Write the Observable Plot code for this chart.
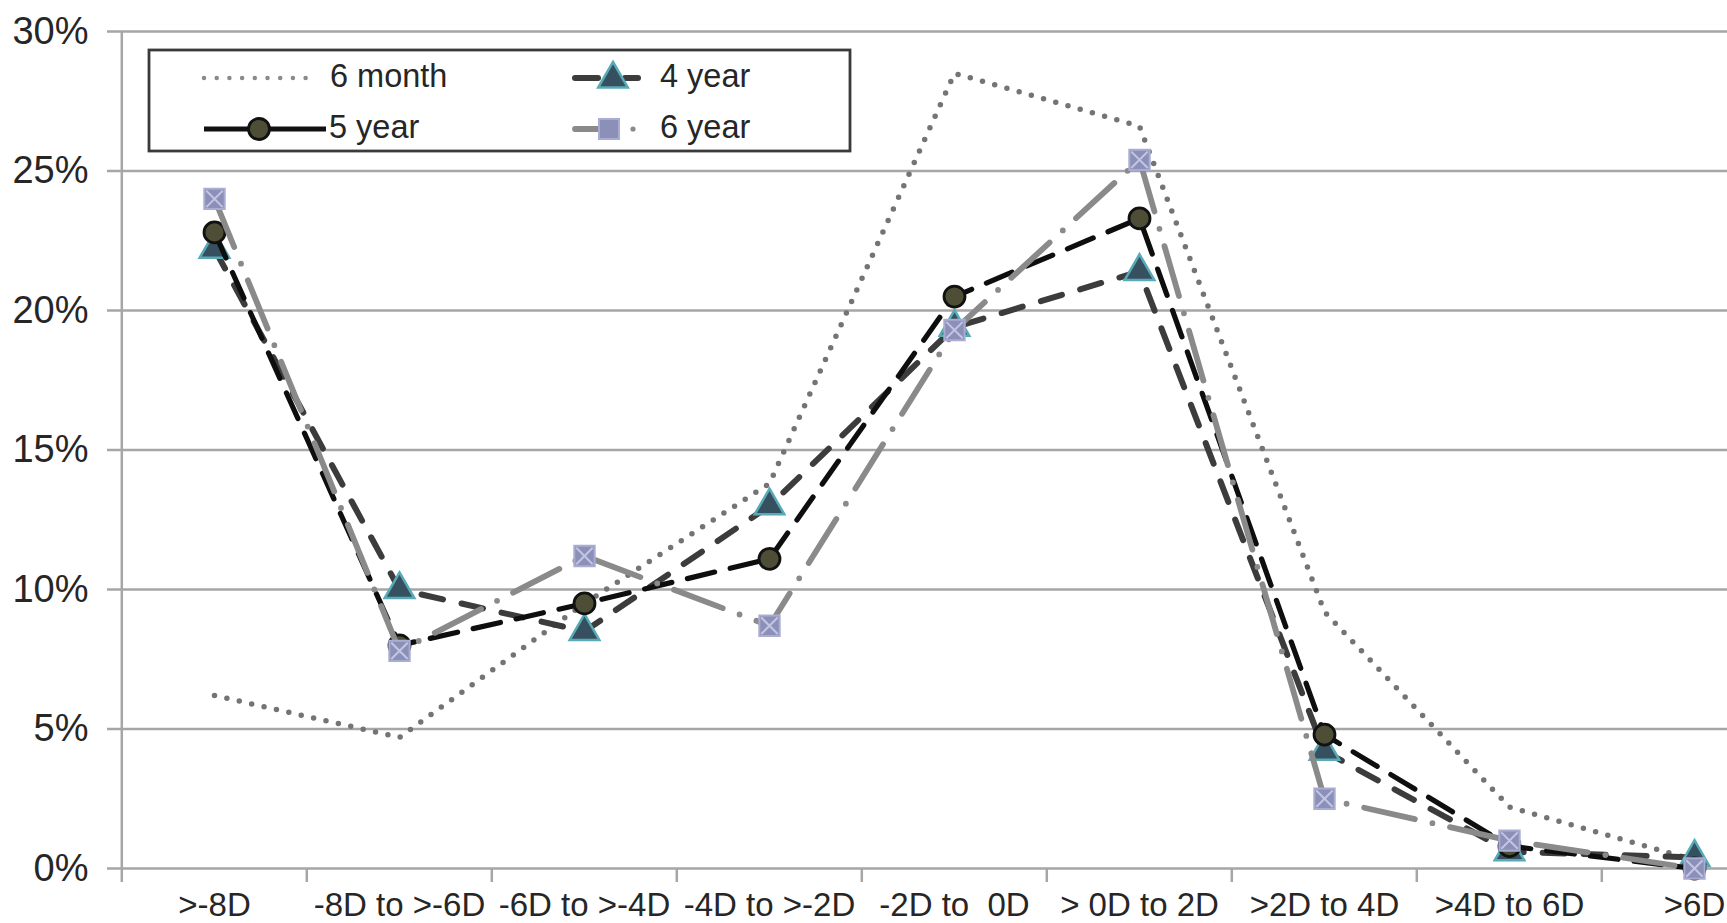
<!DOCTYPE html>
<html>
<head>
<meta charset="utf-8">
<script src="https://cdn.jsdelivr.net/npm/d3@7"></script>
<script src="https://cdn.jsdelivr.net/npm/@observablehq/plot@0.6"></script>
<style>
  html, body { margin: 0; padding: 0; background: #fff; overflow: hidden; }
  #wrap { position: relative; width: 1727px; height: 923px; }
  #wrap svg { display: block; }
  #legend { position: absolute; left: 0; top: 0; pointer-events: none; }
</style>
</head>
<body>
<div id="wrap"></div>
<script>
// ---- data ----
const categories = [">-8D", "-8D to >-6D", "-6D to >-4D", "-4D to >-2D", "-2D to  0D", "> 0D to 2D", ">2D to 4D", ">4D to 6D", ">6D"];
const sixMonth = [6.2, 4.7, 9.5, 13.8, 28.5, 26.6, 9.2, 2.2, 0.3];
const fourYear = [22.2, 10.0, 8.5, 13.0, 19.4, 21.4, 4.2, 0.6, 0.4];
const fiveYear = [22.8, 8.0, 9.5, 11.1, 20.5, 23.3, 4.8, 0.8, 0.0];
const sixYear  = [24.0, 7.8, 11.2, 8.7, 19.3, 25.4, 2.5, 1.0, 0.0];
const yTicks = [0, 0.05, 0.10, 0.15, 0.20, 0.25, 0.30];
const seriesNames = ["6 month", "4 year", "5 year", "6 year"];

const toRows = (vals) => vals.map((v, i) => ({cat: categories[i], v: v / 100}));
const d6m = toRows(sixMonth), d4y = toRows(fourYear), d5y = toRows(fiveYear), d6y = toRows(sixYear);

const STEP = 185.4;
const LEFT = 120;
const gridColor = "#a6a6a6";
const textColor = "#262626";

const plot = Plot.plot({
  width: 1727,
  height: 923,
  marginLeft: LEFT,
  marginRight: 0,
  marginTop: 31,
  marginBottom: 55,
  style: {fontFamily: "'Liberation Sans', Arial, sans-serif", color: textColor, background: "white"},
  x: {type: "point", domain: categories, range: [LEFT, LEFT + categories.length * STEP], padding: 0.5},
  y: {domain: [0, 0.30]},
  marks: [
    Plot.gridY(yTicks, {stroke: gridColor, strokeOpacity: 1, strokeWidth: 2.5}),
    Plot.axisY(yTicks, {tickSize: 13, tickPadding: 19, fontSize: 38, stroke: gridColor, strokeWidth: 2.5, tickFormat: d3.format(".0%"), label: null}),
    Plot.ruleX([categories[0]], {dx: -STEP / 2, stroke: gridColor, strokeWidth: 2.5}),
    Plot.axisX({tickSize: 14, dx: -STEP / 2, tickFormat: () => "", stroke: gridColor, strokeWidth: 2.5, label: null}),
    Plot.axisX({tickSize: 0, tickPadding: 24, fontSize: 33, label: null}),
    // 6 month
    Plot.line(d6m, {x: "cat", y: "v", stroke: "#747474", strokeWidth: 5.5, strokeDasharray: "0,12.7", strokeLinecap: "round"}),
    // 4 year
    Plot.line(d4y, {x: "cat", y: "v", stroke: "#3c3c3c", strokeWidth: 6, strokeDasharray: "22,19", strokeLinecap: "round"}),
    Plot.dot(d4y, {x: "cat", y: "v", symbol: "triangle", r: 11, fill: "#37505f", stroke: "#58aab6", strokeWidth: 2.5}),
    // 5 year
    Plot.line(d5y, {x: "cat", y: "v", stroke: "#0e0e0e", strokeWidth: 5.2, strokeDasharray: "28,16", strokeLinecap: "round"}),
    Plot.dot(d5y, {x: "cat", y: "v", symbol: "circle", r: 10.5, fill: "#4e4d36", stroke: "#111111", strokeWidth: 2.8}),
    // 6 year
    Plot.line(d6y, {x: "cat", y: "v", stroke: "#8a8a8a", strokeWidth: 5.8, strokeDasharray: "52,18,0,18", strokeLinecap: "round"}),
    Plot.dot(d6y, {x: "cat", y: "v", symbol: "square", r: 11.5, fill: "#8c90b8", stroke: "#a9add2", strokeWidth: 2}),
    Plot.dot(d6y, {x: "cat", y: "v", symbol: "times", r: 7.5, stroke: "#c3c6e2", strokeWidth: 2})
  ]
});

const wrap = document.getElementById("wrap");
wrap.appendChild(plot);

// ---- legend (inside plot area, top-left) ----
const lg = d3.select(wrap).append("svg")
  .attr("id", "legend").attr("width", 1727).attr("height", 923);
lg.append("rect").attr("x", 149).attr("y", 50).attr("width", 701).attr("height", 101)
  .attr("fill", "white").attr("stroke", "#3a3a3a").attr("stroke-width", 2.8);
const font = "'Liberation Sans', Arial, sans-serif";
const addText = (x, y, t) => lg.append("text").attr("x", x).attr("y", y)
  .attr("font-family", font).attr("font-size", 32.5).attr("fill", textColor).attr("dy", "0.35em").text(t);

// 6 month
lg.append("line").attr("x1", 204).attr("x2", 318).attr("y1", 78).attr("y2", 78)
  .attr("stroke", "#8a8a8a").attr("stroke-width", 4.5).attr("stroke-dasharray", "0,12.7").attr("stroke-linecap", "round");
addText(330, 76, seriesNames[0]);
// 5 year
lg.append("line").attr("x1", 204).attr("x2", 326).attr("y1", 129).attr("y2", 129)
  .attr("stroke", "#111").attr("stroke-width", 5);
lg.append("circle").attr("cx", 259).attr("cy", 129).attr("r", 10.5)
  .attr("fill", "#4e4d36").attr("stroke", "#111").attr("stroke-width", 2.8);
addText(329, 127, seriesNames[2]);
// 4 year
lg.append("line").attr("x1", 575).attr("x2", 598).attr("y1", 78).attr("y2", 78)
  .attr("stroke", "#3c3c3c").attr("stroke-width", 6).attr("stroke-linecap", "round");
lg.append("line").attr("x1", 625).attr("x2", 638).attr("y1", 78).attr("y2", 78)
  .attr("stroke", "#3c3c3c").attr("stroke-width", 6).attr("stroke-linecap", "round");
lg.append("path").attr("transform", "translate(613,79)")
  .attr("d", d3.symbol(d3.symbolTriangle, Math.PI * 121)())
  .attr("fill", "#37505f").attr("stroke", "#58aab6").attr("stroke-width", 2.5);
addText(660, 76, seriesNames[1]);
// 6 year
lg.append("line").attr("x1", 575).attr("x2", 600).attr("y1", 129).attr("y2", 129)
  .attr("stroke", "#8a8a8a").attr("stroke-width", 5.8).attr("stroke-linecap", "round");
lg.append("rect").attr("x", 599).attr("y", 119).attr("width", 20).attr("height", 20)
  .attr("fill", "#8c90b8").attr("stroke", "#a9add2").attr("stroke-width", 2);
lg.append("circle").attr("cx", 633).attr("cy", 129).attr("r", 2.6).attr("fill", "#8a8a8a");
addText(660, 127, seriesNames[3]);
</script>
</body>
</html>
